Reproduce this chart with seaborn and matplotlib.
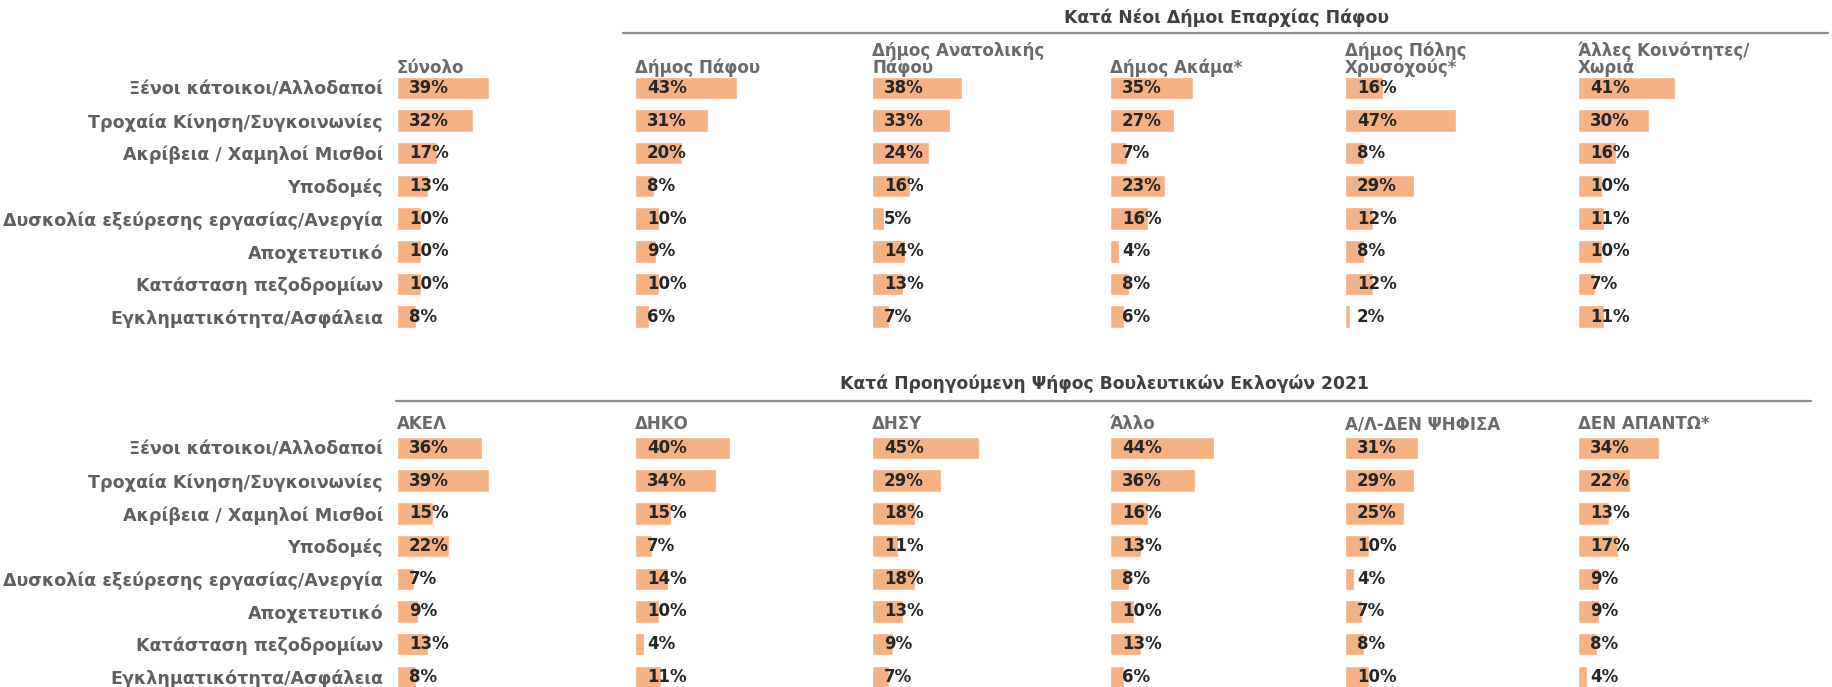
import matplotlib
matplotlib.use("Agg")
import matplotlib.pyplot as plt
import seaborn as sns
import pandas as pd

sns.set_style("white")
plt.rcParams["font.family"] = ["DejaVu Sans"]

categories = ["Ξένοι κάτοικοι/Αλλοδαποί", "Τροχαία Κίνηση/Συγκοινωνίες",
              "Ακρίβεια / Χαμηλοί Μισθοί", "Υποδομές",
              "Δυσκολία εξεύρεσης εργασίας/Ανεργία", "Αποχετευτικό",
              "Κατάσταση πεζοδρομίων", "Εγκληματικότητα/Ασφάλεια"]

# top block: new municipalities
top_title = "Κατά Νέοι Δήμοι Επαρχίας Πάφου"
top_headers = ["Σύνολο", "Δήμος Πάφου", "Δήμος Ανατολικής\nΠάφου", "Δήμος Ακάμα*",
               "Δήμος Πόλης\nΧρυσοχούς*", "Άλλες Κοινότητες/\nΧωριά"]
synolo = [39, 32, 17, 13, 10, 10, 10, 8]
dimos_pafou = [43, 31, 20, 8, 10, 9, 10, 6]
dimos_anatolikis = [38, 33, 24, 16, 5, 14, 13, 7]
dimos_akama = [35, 27, 7, 23, 16, 4, 8, 6]
dimos_polis = [16, 47, 8, 29, 12, 8, 12, 2]
alles_koinotites = [41, 30, 16, 10, 11, 10, 7, 11]

# bottom block: previous vote 2021
bottom_title = "Κατά Προηγούμενη Ψήφος Βουλευτικών Εκλογών 2021"
bottom_headers = ["ΑΚΕΛ", "ΔΗΚΟ", "ΔΗΣΥ", "Άλλο", "Α/Λ-ΔΕΝ ΨΗΦΙΣΑ", "ΔΕΝ ΑΠΑΝΤΩ*"]
akel = [36, 39, 15, 22, 7, 9, 13, 8]
diko = [40, 34, 15, 7, 14, 10, 4, 11]
disy = [45, 29, 18, 11, 18, 13, 9, 7]
allo = [44, 36, 16, 13, 8, 10, 13, 6]
al_den = [31, 29, 25, 10, 4, 7, 8, 10]
den_apanto = [34, 22, 13, 17, 9, 9, 8, 4]

top_series = [synolo, dimos_pafou, dimos_anatolikis, dimos_akama, dimos_polis, alles_koinotites]
bottom_series = [akel, diko, disy, allo, al_den, den_apanto]

W, H = 1832, 687
BAR = "#F4B183"
fig = plt.figure(figsize=(W / 100, H / 100), dpi=100)

col_x = [397, 635, 872, 1110, 1345, 1578]   # px, left edge of bars
px_per_pct = 2.37
xmax = 50
row_gap = 32.7
header_line = 16.7


def add_panel(x0, top_px, vals, header, baseline_px, show_labels):
    w = xmax * px_per_pct
    h = row_gap * len(categories)
    ax = fig.add_axes([x0 / W, 1 - (top_px + h) / H, w / W, h / H])
    df = pd.DataFrame({"cat": categories, "val": vals})
    sns.barplot(data=df, x="val", y="cat", orient="h", color=BAR, saturation=1,
                width=0.69, ax=ax)
    ax.set_xlim(0, xmax)
    ax.set_ylim(len(categories) - 0.5, -0.5)
    ax.set_xlabel("")
    ax.set_ylabel("")
    ax.set_xticks([])
    sns.despine(ax=ax, left=True, bottom=True)
    if show_labels:
        ax.tick_params(axis="y", length=0, pad=10)
        for t in ax.get_yticklabels():
            t.set_fontsize(12.6)
            t.set_color("#606060")
            t.set_fontweight("bold")
    else:
        ax.set_yticks([])
    for i, v in enumerate(vals):
        ax.annotate(f"{v}%", xy=(0, i), xytext=(8.6, 0), textcoords="offset points",
                    ha="left", va="center", fontsize=12, fontweight="bold",
                    color="#262626")
    # column header, last line sits on baseline_px
    lines = header.split("\n")
    for j, line in enumerate(reversed(lines)):
        fig.text(x0 / W, 1 - (baseline_px - j * header_line) / H, line,
                 ha="left", va="baseline", fontsize=12, fontweight="bold",
                 color="#6a6a6a")
    return ax


top_axes_top = 87.8 - row_gap / 2
bottom_axes_top = 448 - row_gap / 2

for k in range(6):
    add_panel(col_x[k], top_axes_top, top_series[k], top_headers[k], 72.7, k == 0)
    add_panel(col_x[k], bottom_axes_top, bottom_series[k], bottom_headers[k], 429.3, k == 0)

# block titles and rules
fig.add_artist(plt.Line2D([623 / W, 1828 / W], [1 - 32.7 / H] * 2, color="#8c8c8c", lw=1.6))
fig.add_artist(plt.Line2D([396 / W, 1811 / W], [1 - 400.7 / H] * 2, color="#8c8c8c", lw=1.6))
fig.text(1226 / W, 1 - 18 / H, top_title, ha="center", va="center", fontsize=12.4,
         fontweight="bold", color="#404040")
fig.text(1104 / W, 1 - 384 / H, bottom_title, ha="center", va="center", fontsize=12.3,
         fontweight="bold", color="#404040")

fig.savefig("out.png", dpi=100)
